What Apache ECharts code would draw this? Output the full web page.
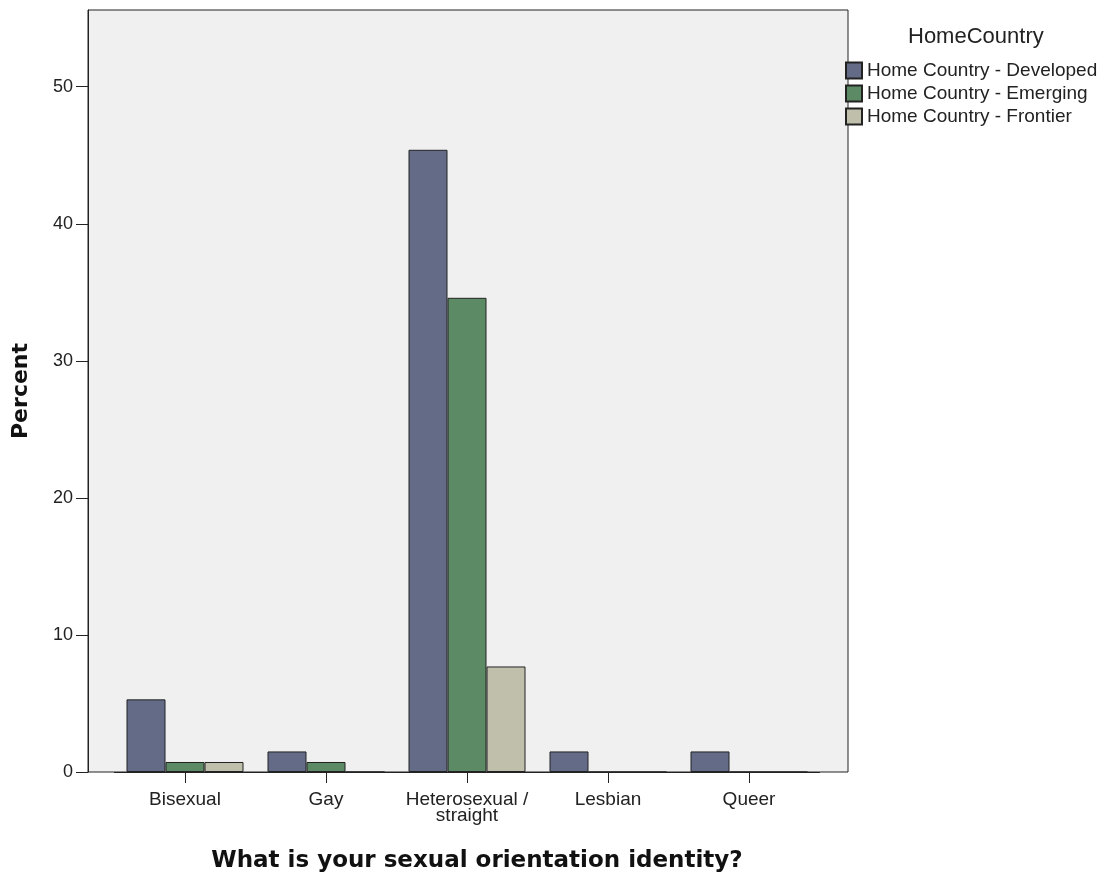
<!DOCTYPE html>
<html>
<head>
<meta charset="utf-8">
<script src="https://cdn.jsdelivr.net/npm/echarts@6/dist/echarts.min.js"></script>
<style>
html,body{margin:0;padding:0;background:#fff;}
#chart{width:1112px;height:878px;}
</style>
</head>
<body>
<div id="chart"></div>
<script>
const categories = ['Bisexual', 'Gay', 'Heterosexual /\nstraight', 'Lesbian', 'Queer'];
const seriesNames = ['Home Country - Developed', 'Home Country - Emerging', 'Home Country - Frontier'];
const developed = [5.3, 1.5, 45.4, 1.5, 1.5];
const emerging = [0.73, 0.73, 34.6, 0, 0];
const frontier = [0.73, 0, 7.7, 0, 0];
const yTicks = [0, 10, 20, 30, 40, 50];
const colors = ['#636b87', '#5b8a64', '#c0bfab'];

const chart = echarts.init(document.getElementById('chart'), null, {renderer: 'canvas'});
const values = [developed, emerging, frontier];

const option = {
  animation: false,
  backgroundColor: '#ffffff',
  title: {
    text: 'HomeCountry',
    left: 903, top: 21,
    textStyle: {fontFamily: 'Liberation Sans', fontSize: 22, fontWeight: 'normal', color: '#222'}
  },
  legend: {
    orient: 'vertical',
    left: 845, top: 61,
    itemWidth: 16, itemHeight: 16, itemGap: 4,
    icon: 'rect',
    padding: 0,
    textStyle: {fontFamily: 'Liberation Sans', fontSize: 19, color: '#222'},
    data: seriesNames
  },
  grid: [
    {left: 114.5, right: 292.5, top: 10, bottom: 106, show: false, containLabel: false, outerBoundsMode: 'none'},
    {left: 88, right: 264, top: 10, bottom: 106, show: true, backgroundColor: '#f0f0f0', borderColor: '#222', borderWidth: 1, containLabel: false, outerBoundsMode: 'none'}
  ],
  xAxis: [
    {
      type: 'category', gridIndex: 0, data: categories,
      axisLine: {show: true, lineStyle: {color: '#222'}},
      axisTick: {show: true, alignWithLabel: true, length: 11, lineStyle: {color: '#222'}},
      axisLabel: {fontFamily: 'Liberation Sans', fontSize: 19, color: '#222', margin: 20, lineHeight: 16, interval: 0},
      name: 'What is your sexual orientation identity?',
      nameLocation: 'middle', nameGap: 78,
      nameTextStyle: {fontFamily: 'DejaVu Sans', fontSize: 23, fontWeight: 'bold', color: '#111', padding: [0, 0, 0, 20]}
    },
    {type: 'category', gridIndex: 1, show: false, data: categories}
  ],
  yAxis: [
    {
      type: 'value', gridIndex: 0, min: 0, max: 55.6, offset: 26.5,
      splitLine: {show: false},
      axisLine: {show: true, lineStyle: {color: '#222'}},
      axisTick: {show: true, length: 12, customValues: yTicks, lineStyle: {color: '#222'}},
      axisLabel: {customValues: yTicks, fontFamily: 'Liberation Sans', fontSize: 18, color: '#222', margin: 15},
      name: 'Percent', nameLocation: 'middle', nameGap: 56, nameRotate: 90,
      nameTextStyle: {fontFamily: 'DejaVu Sans', fontSize: 22, fontWeight: 'bold', color: '#111'}
    },
    {type: 'value', gridIndex: 1, show: false, min: 0, max: 55.6}
  ],
  series: seriesNames.map((n, i) => ({
    name: n,
    type: 'bar',
    xAxisIndex: 0, yAxisIndex: 0,
    data: values[i],
    barWidth: 39,
    barGap: '0%',
    itemStyle: {color: colors[i], borderColor: '#222', borderWidth: 1},
    z: 3
  }))
};
chart.setOption(option);
</script>
</body>
</html>
